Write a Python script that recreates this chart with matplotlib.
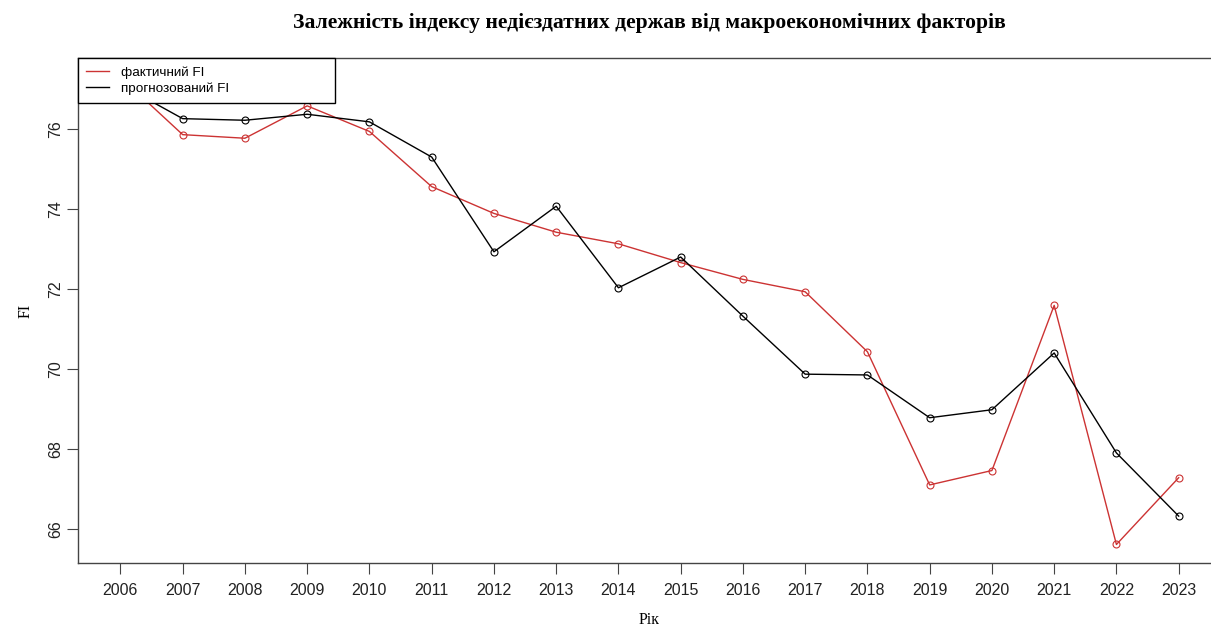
import numpy as np
import matplotlib.pyplot as plt

# Роки та значення індексу FI
years = [2006, 2007, 2008, 2009, 2010, 2011, 2012, 2013, 2014,
         2015, 2016, 2017, 2018, 2019, 2020, 2021, 2022, 2023]
fi_fact = [77.30, 75.86, 75.77, 76.58, 75.94, 74.56, 73.89, 73.42, 73.13,
           72.66, 72.24, 71.93, 70.43, 67.10, 67.46, 71.59, 65.61, 67.28]
fi_prog = [77.12, 76.26, 76.22, 76.37, 76.18, 75.30, 72.93, 74.07, 72.03,
           72.80, 71.32, 69.87, 69.85, 68.78, 68.98, 70.40, 67.90, 66.32]
y_ticks = [66, 68, 70, 72, 74, 76]

fig = plt.figure(figsize=(12.11, 6.30), dpi=100)
# область графіка як у R: права рамка виходить за край зображення
ax = fig.add_axes([78.1 / 1211, 0.1059, 1142.9 / 1211, 0.8016])

ax.plot(years, fi_fact, color='#cc3333', lw=1, marker='o', ms=5,
        mfc='none', mew=0.8, label='фактичний FI')
ax.plot(years, fi_prog, color='black', lw=1, marker='o', ms=5,
        mfc='none', mew=0.8, label='прогнозований FI')

ax.set_xlim(2005.32, 2023.68)
ax.set_ylim(65.14, 77.77)
ax.set_xticks(years)
ax.set_xticklabels([str(y) for y in years], family='Liberation Sans',
                   fontsize=11.5, color='#222222')
ax.set_yticks(y_ticks)
ax.set_yticklabels([str(v) for v in y_ticks], family='Liberation Sans',
                   fontsize=11.5, color='#222222', rotation=90, va='center')
ax.tick_params(axis='x', length=8, pad=6, color='#444444')
ax.tick_params(axis='y', length=8, pad=3, color='#444444')
for s in ax.spines.values():
    s.set_color('#444444')
    s.set_linewidth(1)

ax.set_xlabel('Рік', family='Liberation Serif', fontsize=11.5, labelpad=10)
ax.set_ylabel('FI', family='Liberation Serif', fontsize=11.5, labelpad=10)
fig.text(0.5363, 0.963, 'Залежність індексу недієздатних держав від макроекономічних факторів',
         family='Liberation Serif', fontweight='bold', fontsize=15.6,
         ha='center', va='center')

leg = ax.legend(loc='upper left', bbox_to_anchor=(0, 1, 0.2245, 0), mode='expand',
                borderaxespad=0, fancybox=False, edgecolor='black', framealpha=1,
                prop={'family': 'Liberation Sans', 'size': 9.7},
                handlelength=1.7, handletextpad=0.85, labelspacing=0.25,
                borderpad=0.62)
for h in leg.get_lines():
    h.set_marker('')
leg.get_frame().set_linewidth(1)

fig.savefig('out.png', dpi=100)
